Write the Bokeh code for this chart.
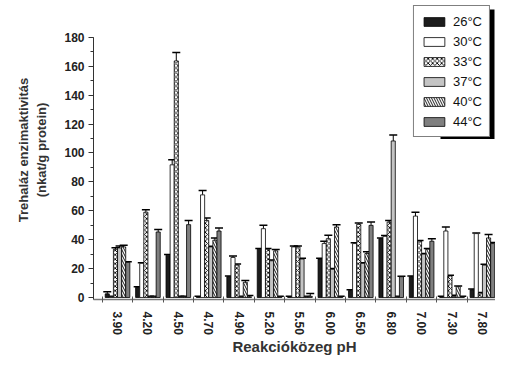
import numpy as np
from math import pi
from bokeh.plotting import figure
from bokeh.models import (ColumnDataSource, Whisker, TeeHead, FixedTicker, Legend,
                          LegendItem, BoxAnnotation, Range1d)
from bokeh.embed import file_html
from bokeh.resources import INLINE

ph_labels = ["3.90", "4.20", "4.50", "4.70", "4.90", "5.20", "5.50",
             "6.00", "6.50", "6.80", "7.00", "7.30", "7.80"]
temps = ["26°C", "30°C", "33°C", "37°C", "40°C", "44°C"]

t26 = [2.5, 7, 29.3, 0.5, 14.4, 33.4, 0.5, 26.6, 4.8, 40.7, 14.4, 0.5, 5.3]
t30 = [0.5, 23.6, 91.8, 71, 27.7, 47.6, 35, 37.3, 37.3, 42.3, 56.3, 46, 44.2]
t33 = [33.4, 59, 163.7, 53.3, 22.4, 33.4, 35, 40.7, 50.6, 52.2, 38.9, 14.9, 3]
t37 = [34.3, 0.5, 0.5, 35, 0.5, 25.4, 26.6, 19.5, 23.6, 108.3, 30, 0.5, 22.4]
t40 = [35, 0.5, 0.5, 39.6, 10.5, 32.3, 0.5, 48.8, 30.4, 0.5, 33.4, 7.5, 41.2]
t44 = [24.3, 45.3, 50.4, 46, 0.5, 0.5, 0.8, 0.5, 49.9, 14.4, 38.9, 0.5, 37.3]

e26 = [1.5, 0.5, 0.5, 0.3, 0.5, 0.5, 0.3, 0.5, 0.5, 0.5, 0.5, 0.3, 0.5]
e30 = [0.3, 0.5, 3.5, 3, 1, 2.3, 0.7, 1.6, 0.5, 0.5, 2.7, 2.8, 0.5]
e33 = [1, 1.7, 5.9, 1.7, 0.8, 0.5, 0.7, 2.3, 0.9, 1.1, 0.5, 0.5, 0.5]
e37 = [1.4, 0.3, 0.3, 0.5, 0.3, 0.5, 0.5, 0.5, 0.5, 4.1, 0.5, 1, 0.6]
e40 = [1.2, 0.3, 0.3, 1.6, 1.2, 0.9, 0.3, 1.6, 1.2, 0.3, 0.5, 0.5, 2.3]
e44 = [0.4, 1.7, 2.9, 2, 0.8, 0.3, 2, 0.3, 2.3, 0.3, 1.8, 0.3, 0.7]

values = [t26, t30, t33, t37, t40, t44]
errors = [e26, e30, e33, e37, e40, e44]

fills = ["#1c1c1c", "white", "white", "#c4c4c4", "white", "#7f7f7f"]
hatches = [None, None, "x", None, "\\", None]

FONT = "Liberation Sans"

W, H = 495, 357
BL, BR, BT, BB = 93, 0, 0, 57
x_start, x_end = -0.79, 12.43
y_start, y_end = -1.4, 205.5

p = figure(width=W, height=H, output_backend="svg", toolbar_location=None,
           x_range=Range1d(x_start, x_end), y_range=Range1d(y_start, y_end),
           min_border_left=BL, min_border_right=BR, min_border_top=BT,
           min_border_bottom=BB)
p.outline_line_color = None
p.xgrid.visible = False
p.ygrid.visible = False
p.background_fill_color = "white"

bw = 0.135
idx = np.arange(len(ph_labels))
renderers = []
for k in range(6):
    xs = idx + (k - 2.5) * bw
    src = ColumnDataSource(dict(x=xs, top=values[k],
                                up=np.array(values[k]) + np.array(errors[k])))
    kw = dict(fill_color=fills[k], line_color="black", line_width=0.8)
    if hatches[k]:
        kw.update(hatch_pattern=hatches[k], hatch_color="black",
                  hatch_scale=4.5 if hatches[k] == "x" else 5, hatch_weight=0.9)
    r = p.vbar(x="x", top="top", bottom=0, width=bw, source=src, **kw)
    renderers.append(r)
    w = Whisker(base="x", lower="top", upper="up", source=src, dimension="height",
                line_color="black", line_width=1,
                lower_head=None,
                upper_head=TeeHead(size=8, line_color="black", line_width=1.5))
    p.add_layout(w)

# axes
xa = p.xaxis[0]
xa.ticker = FixedTicker(ticks=list(range(13)), minor_ticks=[i - 0.5 for i in range(14)])
xa.major_label_overrides = {i: lab for i, lab in enumerate(ph_labels)}
xa.major_label_orientation = -pi / 2
xa.major_tick_line_color = None
xa.major_tick_in = 0
xa.major_tick_out = 0
xa.minor_tick_in = 3
xa.minor_tick_out = 3
xa.minor_tick_line_color = "#555555"
xa.axis_line_color = "#777777"
xa.axis_line_width = 1.5
xa.major_label_text_font = FONT
xa.major_label_text_font_style = "bold"
xa.major_label_text_font_size = "12px"
xa.major_label_text_color = "#222222"
xa.major_label_standoff = 9
xa.axis_label = "Reakcióközeg pH"
xa.axis_label_text_font = FONT
xa.axis_label_text_font_style = "bold"
xa.axis_label_text_font_size = "15px"
xa.axis_label_text_color = "#333333"
xa.axis_label_standoff = 0

ya = p.yaxis[0]
ya.ticker = FixedTicker(ticks=list(range(0, 181, 20)), minor_ticks=list(range(0, 181, 10)))
ya.bounds = (y_start, 180)
ya.major_tick_in = 0
ya.major_tick_out = 5
ya.minor_tick_in = 0
ya.minor_tick_out = 3
ya.axis_line_color = "#333333"
ya.major_tick_line_color = "#333333"
ya.minor_tick_line_color = "#333333"
ya.major_label_text_font = FONT
ya.major_label_text_font_style = "bold"
ya.major_label_text_font_size = "12px"
ya.major_label_text_color = "#222222"
ya.major_label_standoff = 4
ya.axis_label = "Trehaláz enzimaktivitás\n(nkat/g protein)"
ya.axis_label_text_font = FONT
ya.axis_label_text_font_style = "bold"
ya.axis_label_text_font_size = "13px"
ya.axis_label_text_color = "#333333"
ya.axis_label_standoff = 12

# legend shadow: canvas pixel -> data conversion
frame_w = W - BL - BR
frame_h = H - BT - BB
sx = (x_end - x_start) / frame_w
sy = (y_end - y_start) / frame_h
def px2x(px):
    return x_start + (px - BL) * sx
def py2y(py):
    return y_end - (py - BT) * sy
shadow = BoxAnnotation(left=px2x(440), right=px2x(494), top=py2y(9), bottom=py2y(139),
                       fill_color="black", fill_alpha=1, line_color=None)
p.add_layout(shadow)

legend = Legend(items=[LegendItem(label=t, renderers=[r]) for t, r in zip(temps, renderers)],
                location="top_right", margin=5)
legend.border_line_color = "black"
legend.border_line_width = 1.5
legend.background_fill_color = "white"
legend.background_fill_alpha = 1
legend.label_text_font = FONT
legend.label_text_font_size = "13px"
legend.label_text_color = "#111111"
legend.glyph_width = 26
legend.glyph_height = 11
legend.label_height = 16
legend.spacing = 4
legend.padding = 7
legend.label_standoff = 6
p.add_layout(legend)

open("out.html", "w").write(file_html(p, INLINE))
